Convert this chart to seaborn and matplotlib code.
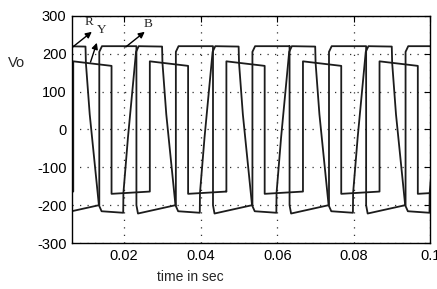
import numpy as np
import matplotlib
matplotlib.use("Agg")
import matplotlib.pyplot as plt
import seaborn as sns

# ── Datos ─────────────────────────────────────────────────
# inicio de cada periodo (50 Hz -> 0.02 s)
PERIODOS = [-0.02, 0.0, 0.02, 0.04, 0.06, 0.08, 0.10]

# fase R: onda trapezoidal (flancos inclinados), un periodo
R_T = [-0.00025, -0.0002, 0.0010, 0.0031, 0.0038,
       0.0099, 0.0100, 0.0110, 0.0134, 0.0141, 0.01975]
R_V = [-220, -168, -20, 205, 220,
       219, 176, 40, -200, -216, -220]

# fase Y: onda cuadrada +180 / -170
Y_T = [0.0067, 0.0067, 0.0100, 0.0167, 0.0167, 0.0267]
Y_V = [-164, 180, 176, 168, -170, -164]

# fase B: onda cuadrada +-220
B_T = [0.0032, 0.0032, 0.0036, 0.0134, 0.0135, 0.0135, 0.0142, 0.0232]
B_V = [220, -200, -222, -200, -200, 205, 220, 220]

XLIM = (0.0064, 0.1)
YLIM = (-300, 300)
XTICKS = [0.02, 0.04, 0.06, 0.08, 0.1]
XTICKLABELS = ["0.02", "0.04", "0.06", "0.08", "0.1"]
YTICKS = [-300, -200, -100, 0, 100, 200, 300]


def repetir(t, v):
    tt = np.concatenate([np.array(t) + p for p in PERIODOS])
    vv = np.concatenate([np.array(v) for _ in PERIODOS])
    return tt, vv


sns.set_style("white")
plt.rcParams["font.family"] = ["Liberation Sans", "DejaVu Sans"]
plt.rcParams["axes.unicode_minus"] = False

fig = plt.figure(figsize=(4.37, 2.89), dpi=100)
ax = fig.add_axes([0.165, 0.159, 0.820, 0.786])

color = "#1c1c1c"
for t, v in [(R_T, R_V), (Y_T, Y_V), (B_T, B_V)]:
    tt, vv = repetir(t, v)
    sns.lineplot(x=tt, y=vv, ax=ax, sort=False, estimator=None,
                 color=color, lw=1.3)

ax.set_xlim(*XLIM)
ax.set_ylim(*YLIM)
ax.set_xticks(XTICKS)
ax.set_xticklabels(XTICKLABELS)
ax.set_yticks(YTICKS)
ax.set_yticklabels([str(y) for y in YTICKS])
ax.grid(True, color="#333333", linestyle=(0, (1, 5)), lw=0.9)
ax.tick_params(direction="in", length=4, width=0.8, labelsize=10.5,
               top=True, right=True, colors="black", pad=4)
for s in ax.spines.values():
    s.set_color("black")
    s.set_linewidth(1.0)

# Etiquetas
fig.text(17 / 437, 1 - 63 / 289, "Vo", fontsize=10.5, ha="center", va="center")
fig.text(190 / 437, 1 - 277 / 289, "time in sec", fontsize=10, ha="center", va="center")

# Flechas R, Y, B
serif = dict(family="Liberation Serif", fontsize=9.5)
for txt, tail, head, pos in [
    ("R", (0.00659, 218), (0.01155, 258), (0.01077, 284)),
    ("Y", (0.01121, 178), (0.01286, 229), (0.01400, 262)),
    ("B", (0.02043, 218), (0.02538, 258), (0.02630, 278)),
]:
    ax.annotate("", xy=head, xytext=tail,
                arrowprops=dict(arrowstyle="-|>", color="black", lw=1.0,
                                mutation_scale=9, shrinkA=0, shrinkB=0),
                annotation_clip=False)
    ax.text(pos[0], pos[1], txt, ha="center", va="center", **serif)

fig.savefig("out.png", dpi=100, facecolor="white")
plt.close(fig)
